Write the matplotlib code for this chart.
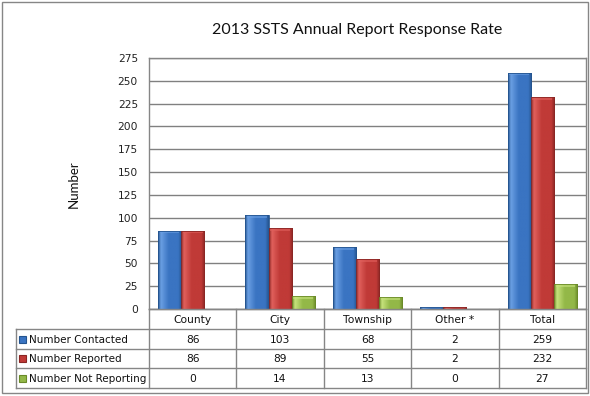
import matplotlib
matplotlib.use("Agg")
import matplotlib.pyplot as plt
import numpy as np
from matplotlib.colors import LinearSegmentedColormap
from matplotlib.patches import Rectangle

categories = ["County", "City", "Township", "Other *", "Total"]
series_names = ["Number Contacted", "Number Reported", "Number Not Reporting"]
contacted = [86, 103, 68, 2, 259]
reported = [86, 89, 55, 2, 232]
not_reporting = [0, 14, 13, 0, 27]
series = [contacted, reported, not_reporting]
yticks = [0, 25, 50, 75, 100, 125, 150, 175, 200, 225, 250, 275]

# (dark edge, highlight, mid) per series
palettes = [
    ("#24548f", "#6a9fe3", "#3a74c2"),
    ("#8a2624", "#e0605c", "#c03a37"),
    ("#6a8a28", "#c6e27c", "#93b848"),
]

W, H = 590, 396
fig = plt.figure(figsize=(W / 100, H / 100), dpi=100)
fig.patch.set_facecolor("white")


def px(x, y):
    return x / W, 1 - y / H


# outer chart border
fig.add_artist(Rectangle((1.5 / W, 1 - 392.5 / H), 586 / W, 391 / H,
                         transform=fig.transFigure, fill=False,
                         ec="#868686", lw=1))

left, top = px(149, 58)
right, bottom = px(586, 309)
ax = fig.add_axes([left, bottom, right - left, top - bottom])
ax.set_yticks(yticks)
ax.set_yticklabels([str(t) for t in yticks], fontsize=7.7, color="#222222")
ax.tick_params(axis="y", length=0, pad=8)
ax.set_xticks([])
for s in ax.spines.values():
    s.set_color("#868686")
    s.set_linewidth(1)
ax.grid(axis="y", color="#808080", lw=1)
ax.set_axisbelow(True)

bw = 0.265
x = np.arange(len(categories))


def cmap_for(p):
    dark, light, mid = p
    return LinearSegmentedColormap.from_list(
        "g", [(0, dark), (0.12, light), (0.45, mid), (0.85, mid), (1, dark)])


grad = np.linspace(0, 1, 64).reshape(1, -1)
for si, vals in enumerate(series):
    cm = cmap_for(palettes[si])
    bars = ax.bar(x + (si - 1) * bw, vals, bw, color=palettes[si][2],
                  lw=0, zorder=2)
    for b in bars:
        h = b.get_height()
        if h <= 0:
            continue
        x0 = b.get_x()
        im = ax.imshow(grad, extent=(x0, x0 + bw, 0, h), aspect="auto",
                       cmap=cm, zorder=3)
        im.set_clip_path(b)
        cap = min(3.0, h * 0.5)
        ax.add_patch(Rectangle((x0 + 0.02, h - cap), bw - 0.04, cap,
                               color=palettes[si][1], alpha=0.6, lw=0,
                               zorder=4))
        ax.add_patch(Rectangle((x0, 0), bw, h, fill=False,
                               ec=palettes[si][0], lw=0.6, zorder=5))
ax.set_xlim(-0.5, len(categories) - 0.5)
ax.set_ylim(0, 275)

# title and axis label
fig.text(*px(357, 30), "2013 SSTS Annual Report Response Rate",
         ha="center", va="center", fontsize=11.5, family="Lato",
         color="#111111")
fig.text(*px(74, 184), "Number", rotation=90, ha="center", va="center",
         fontsize=9.5, family="Lato", color="#111111")

# data table
rows_y = [309, 329, 349, 368, 388]
col_px = [149 + i * (586 - 149) / len(categories) for i in range(len(categories) + 1)]
line_kw = dict(color="#868686", lw=1, transform=fig.transFigure)
for cx in col_px:
    fig.add_artist(plt.Line2D([cx / W, cx / W], [px(0, rows_y[0])[1], px(0, rows_y[-1])[1]], **line_kw))
fig.add_artist(plt.Line2D([16 / W, 16 / W], [px(0, rows_y[1])[1], px(0, rows_y[-1])[1]], **line_kw))
for i, ry in enumerate(rows_y):
    x_start = 149 if i == 0 else 16
    fig.add_artist(plt.Line2D([x_start / W, 586 / W], [px(0, ry)[1]] * 2, **line_kw))

tkw = dict(ha="center", va="center", fontsize=7.7, color="#111111")
for ci, cat in enumerate(categories):
    cx = (col_px[ci] + col_px[ci + 1]) / 2
    fig.text(*px(cx, (rows_y[0] + rows_y[1]) / 2 + 1), cat, **tkw)
    for si, vals in enumerate(series):
        cy = (rows_y[si + 1] + rows_y[si + 2]) / 2 + 1
        fig.text(*px(cx, cy), str(vals[ci]), **tkw)

for si, name in enumerate(series_names):
    cy = (rows_y[si + 1] + rows_y[si + 2]) / 2
    kx, ky = px(19, cy + 3.5)
    fig.add_artist(Rectangle((kx, ky), 7 / W, 7 / H, transform=fig.transFigure,
                             fc=palettes[si][2], ec=palettes[si][0], lw=0.8))
    fig.text(*px(29, cy + 1), name, ha="left", va="center", fontsize=7.5,
             color="#111111")

fig.savefig("out.png", dpi=100, facecolor="white")
